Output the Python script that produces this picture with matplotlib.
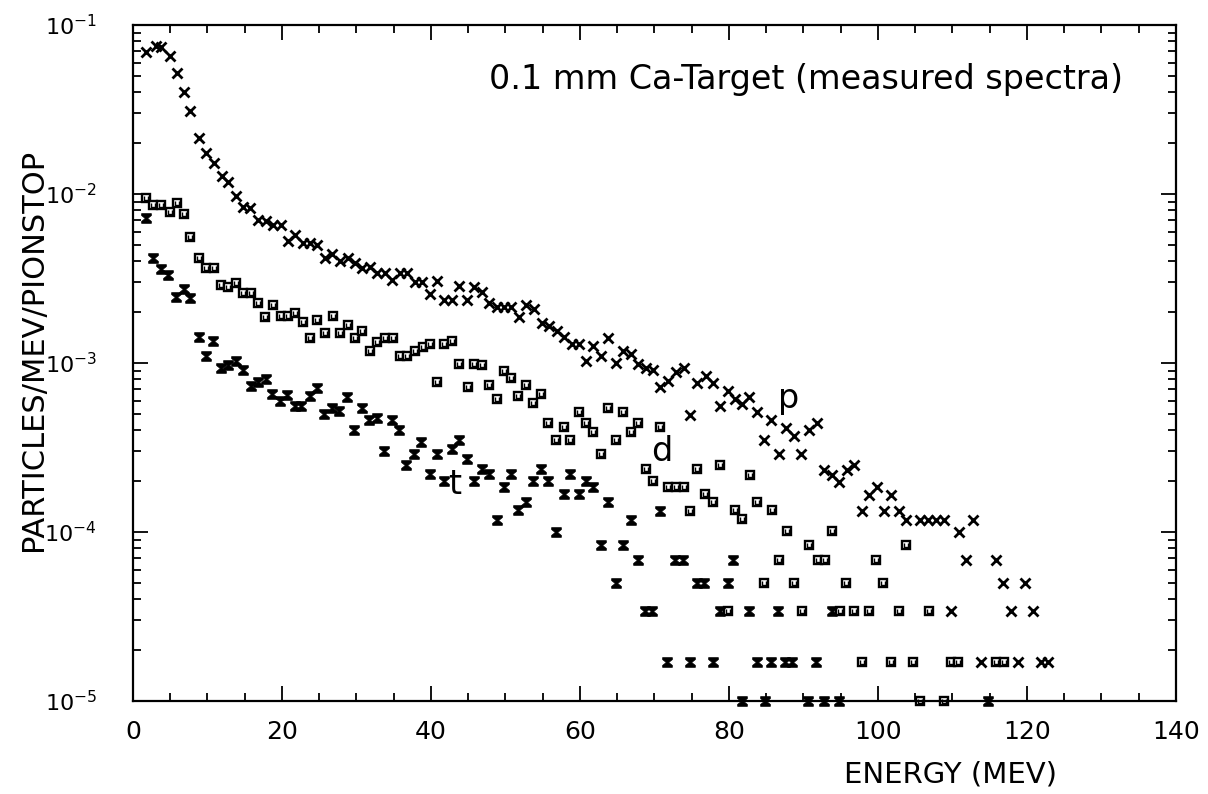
import numpy as np
import matplotlib
matplotlib.use("Agg")
import matplotlib.pyplot as plt
from matplotlib.path import Path
from matplotlib.ticker import MultipleLocator, LogLocator, NullFormatter

# --- data (energy in MeV, particles/MeV/pionstop)
p_energy = np.array([1.75, 3.1, 3.7, 4.9, 5.9, 6.8, 7.7, 8.8, 9.8, 10.9, 11.9, 12.8, 13.8,
                     14.8, 15.7, 16.8, 17.9, 18.8, 19.8, 20.8, 21.7, 22.8, 23.8, 24.7,
                     25.8, 26.7, 27.8, 28.8, 29.8, 30.8, 31.8, 32.8, 33.8, 34.8, 35.8,
                     36.8, 37.8, 38.8, 39.8, 40.8, 41.7, 42.8, 43.8, 44.8, 45.8, 46.8,
                     47.8, 48.8, 49.8, 50.8, 51.8, 52.8, 53.8, 54.9, 55.9, 56.9, 57.8,
                     58.9, 59.8, 60.8, 61.8, 62.8, 63.8, 64.8, 65.8, 66.8, 67.8, 68.9,
                     69.8, 70.8, 71.8, 72.9, 73.9, 74.8, 75.7, 76.9, 77.9, 78.8, 79.8,
                     80.8, 81.7, 82.7, 83.8, 84.7, 85.7, 86.7, 87.7, 88.7, 89.7, 90.8,
                     91.8, 92.8, 93.8, 94.8, 95.8, 96.8, 97.8, 98.8, 99.8, 100.8, 101.8,
                     102.8, 103.8, 105.6, 106.7, 107.8, 108.9, 109.8, 110.9, 111.8,
                     112.8, 113.8, 115.8, 116.8, 117.8, 118.8, 119.8, 120.8, 121.9,
                     122.8])
p_flux = np.array([0.069, 0.075, 0.074, 0.066, 0.052, 0.040, 0.031, 0.0214, 0.0174, 0.0152,
                   0.0127, 0.0117, 0.0097, 0.0084, 0.0083, 0.0070, 0.0069, 0.0066, 0.0066,
                   0.0053, 0.0057, 0.0051, 0.0051, 0.0050, 0.00417, 0.00442, 0.00403,
                   0.00417, 0.00389, 0.00363, 0.0037, 0.0034, 0.0034, 0.0031, 0.0034,
                   0.0034, 0.0030, 0.0030, 0.00256, 0.00307, 0.00237, 0.00237, 0.00286,
                   0.00237, 0.0028, 0.00264, 0.00227, 0.00214, 0.00214, 0.00214, 0.00186,
                   0.0022, 0.0021, 0.00172, 0.00166, 0.00155, 0.00143, 0.0013, 0.0013,
                   0.00103, 0.00126, 0.0011, 0.0014, 0.0010, 0.00118, 0.00113, 0.00099,
                   0.00093, 0.00091, 0.00072, 0.00078, 0.00088, 0.00093, 0.00049, 0.00076,
                   0.00084, 0.00076, 0.00056, 0.00068, 0.00061, 0.00057, 0.00063, 0.00051,
                   0.00035, 0.00046, 0.00029, 0.00041, 0.00037, 0.00029, 0.0004, 0.00044,
                   0.000233, 0.000217, 0.000199, 0.000233, 0.000249, 0.000134, 0.000166,
                   0.000184, 0.000134, 0.000166, 0.000134, 0.000117, 0.000117, 0.000117,
                   0.000117, 0.000117, 3.4e-5, 0.0001, 6.8e-5, 0.000117, 1.7e-5, 6.8e-5,
                   5.0e-5, 3.4e-5, 1.7e-5, 5.0e-5, 3.4e-5, 1.7e-5, 1.7e-5])

d_energy = np.array([1.8, 2.7, 3.7, 4.9, 5.9, 6.8, 7.7, 8.8, 9.8, 10.9, 11.8, 12.8, 13.8,
                     14.8, 15.8, 16.8, 17.7, 18.8, 19.8, 20.8, 21.7, 22.8, 23.8, 24.7,
                     25.8, 26.8, 27.8, 28.8, 29.8, 30.8, 31.8, 32.8, 33.8, 34.9, 35.8,
                     36.8, 37.8, 38.9, 39.9, 40.8, 41.7, 42.8, 43.8, 44.9, 45.8, 46.8,
                     47.8, 48.8, 49.8, 50.8, 51.7, 52.8, 53.7, 54.7, 55.7, 56.8, 57.8,
                     58.7, 59.8, 60.8, 61.8, 62.8, 63.8, 64.8, 65.8, 66.8, 67.8, 68.9,
                     69.8, 70.8, 71.8, 72.9, 73.9, 74.8, 75.7, 76.8, 77.8, 78.8, 79.9,
                     80.8, 81.8, 82.8, 83.8, 84.7, 85.8, 86.7, 87.8, 88.7, 89.8, 90.8,
                     91.9, 92.9, 93.8, 94.9, 95.7, 96.8, 97.8, 98.8, 99.7, 100.7, 101.7,
                     102.8, 103.8, 104.7, 105.7, 106.8, 108.8, 109.8, 110.8, 115.9,
                     116.9])
d_flux = np.array([0.0095, 0.0086, 0.0086, 0.00786, 0.0089, 0.0076, 0.00554, 0.0042, 0.00363,
                   0.00363, 0.0029, 0.0028, 0.00296, 0.0026, 0.0026, 0.00226, 0.00188,
                   0.0022, 0.0019, 0.0019, 0.00197, 0.00175, 0.0014, 0.0018, 0.0015,
                   0.0019, 0.0015, 0.00168, 0.0014, 0.00155, 0.00117, 0.00134, 0.0014,
                   0.0014, 0.0011, 0.0011, 0.00118, 0.00125, 0.0013, 0.00077, 0.0013,
                   0.00135, 0.00099, 0.00072, 0.00099, 0.00097, 0.00074, 0.00061, 0.0009,
                   0.00081, 0.00064, 0.00074, 0.00058, 0.00066, 0.00044, 0.00035, 0.00042,
                   0.00035, 0.00051, 0.00044, 0.00039, 0.00029, 0.00054, 0.00035, 0.00051,
                   0.00039, 0.00044, 0.000235, 0.0002, 0.00042, 0.000184, 0.000184,
                   0.000184, 0.000134, 0.000235, 0.000168, 0.000151, 0.00025, 3.4e-5,
                   0.000135, 0.000119, 0.000217, 0.000151, 5.0e-5, 0.000135, 6.8e-5,
                   0.000102, 5.0e-5, 3.4e-5, 8.4e-5, 6.8e-5, 6.8e-5, 0.000102, 3.4e-5,
                   5.0e-5, 3.4e-5, 1.7e-5, 3.4e-5, 6.8e-5, 5.0e-5, 1.7e-5, 3.4e-5, 8.4e-5,
                   1.7e-5, 1.0e-5, 3.4e-5, 1.0e-5, 1.7e-5, 1.7e-5, 1.7e-5, 1.7e-5])

t_energy = np.array([1.8, 2.7, 3.7, 4.7, 5.8, 6.8, 7.7, 8.8, 9.8, 10.8, 11.8, 12.8, 13.8,
                     14.8, 15.8, 16.8, 17.8, 18.7, 19.7, 20.7, 21.7, 22.6, 23.7, 24.7,
                     25.6, 26.7, 27.7, 28.7, 29.7, 30.7, 31.7, 32.7, 33.7, 34.7, 35.7,
                     36.7, 37.7, 38.7, 39.8, 40.8, 41.7, 42.8, 43.8, 44.8, 45.8, 46.8,
                     47.8, 48.8, 49.8, 50.8, 51.7, 52.8, 53.7, 54.7, 55.7, 56.8, 57.8,
                     58.7, 59.8, 60.8, 61.8, 62.8, 63.8, 64.8, 65.8, 66.8, 67.8, 68.7,
                     69.6, 70.8, 71.7, 72.7, 73.8, 74.7, 75.7, 76.7, 77.8, 78.8, 79.8,
                     80.6, 81.7, 82.7, 83.7, 84.8, 85.6, 86.6, 87.5, 88.5, 90.6, 91.7,
                     92.7, 93.8, 94.8, 114.8])
t_flux = np.array([0.00718, 0.00417, 0.0036, 0.0033, 0.00245, 0.00273, 0.00242, 0.00143,
                   0.0011, 0.00135, 0.00093, 0.00097, 0.00103, 0.00091, 0.00073, 0.00077,
                   0.0008, 0.00066, 0.0006, 0.00065, 0.00056, 0.00056, 0.00064, 0.00071,
                   0.0005, 0.00054, 0.00052, 0.00063, 0.0004, 0.00054, 0.00046, 0.00047,
                   0.0003, 0.00046, 0.0004, 0.00025, 0.00029, 0.00034, 0.00022, 0.00029,
                   0.0002, 0.00031, 0.00035, 0.00027, 0.0002, 0.000235, 0.00022, 0.000118,
                   0.000184, 0.00022, 0.000135, 0.00015, 0.0002, 0.000235, 0.0002, 0.0001,
                   0.000168, 0.00022, 0.000168, 0.0002, 0.000184, 8.4e-5, 0.00015, 5.0e-5,
                   8.4e-5, 0.000118, 6.8e-5, 3.4e-5, 3.4e-5, 0.000134, 1.7e-5, 6.8e-5,
                   6.8e-5, 1.7e-5, 5.0e-5, 5.0e-5, 1.7e-5, 3.4e-5, 5.0e-5, 6.8e-5, 1.0e-5,
                   3.4e-5, 1.7e-5, 1.0e-5, 1.7e-5, 3.4e-5, 1.7e-5, 1.7e-5, 1.0e-5, 1.7e-5,
                   1.0e-5, 3.4e-5, 1.0e-5, 1.0e-5])

x_ticks = [0, 20, 40, 60, 80, 100, 120, 140]
y_ticks = [1e-5, 1e-4, 1e-3, 1e-2, 1e-1]
y_tick_labels = [r"$10^{-5}$", r"$10^{-4}$", r"$10^{-3}$", r"$10^{-2}$", r"$10^{-1}$"]

# --- markers: hourglass for tritons, square with a "u" for deuterons
hourglass = [(-1, 1), (1, 1), (1, 0.6), (0.25, 0), (1, -0.6), (1, -1),
             (-1, -1), (-1, -0.6), (-0.25, 0), (-1, 0.6), (-1, 1)]
u_shape = Path([(-0.5, 0.6), (-0.5, -0.5), (0.5, -0.5), (0.5, 0.6)],
               [Path.MOVETO, Path.LINETO, Path.LINETO, Path.LINETO])

plt.rcParams["font.family"] = ["DejaVu Sans"]
fig = plt.figure(figsize=(12.08, 7.94), dpi=100)
ax = fig.add_axes([0.1101, 0.1171, 0.8634, 0.8514])

ax.plot(p_energy, p_flux, linestyle="none", marker="x", ms=7, mew=2.0,
        color="black", clip_on=False)
ax.plot(d_energy, d_flux, linestyle="none", marker="s", ms=5.5, mew=1.7,
        mfc="white", mec="black", clip_on=False)
ax.plot(d_energy, d_flux, linestyle="none", marker=u_shape, ms=2.8, mew=1.0,
        mfc="none", mec="black", clip_on=False)
ax.plot(t_energy, t_flux, linestyle="none", marker=hourglass, ms=7, mew=0.5,
        color="black", clip_on=False)

# axes
ax.set_yscale("log")
ax.set_xlim(0, 140)
ax.set_ylim(1e-5, 1e-1)
ax.set_xticks(x_ticks)
ax.xaxis.set_minor_locator(MultipleLocator(5))
ax.set_yticks(y_ticks)
ax.set_yticklabels(y_tick_labels)
ax.yaxis.set_minor_locator(LogLocator(base=10, subs=np.arange(2, 10)))
ax.yaxis.set_minor_formatter(NullFormatter())
ax.tick_params(which="both", direction="in", top=True, right=True, width=1.3)
ax.tick_params(which="major", length=11)
ax.tick_params(which="minor", length=5.5)
ax.tick_params(axis="x", which="major", labelsize=18, pad=14)
ax.tick_params(axis="y", which="major", labelsize=16, pad=26)
for spine in ax.spines.values():
    spine.set_linewidth(1.6)

ax.set_ylabel("PARTICLES/MEV/PIONSTOP", fontsize=22)
ax.yaxis.set_label_coords(-0.0815, 0.52)
ax.set_xlabel("ENERGY (MEV)", fontsize=21)
ax.xaxis.set_label_coords(0.784, -0.088)

# annotations
ax.text(0.645, 0.919, "0.1 mm Ca-Target (measured spectra)", transform=ax.transAxes,
        ha="center", va="center", fontsize=24)
ax.text(88, 6.2e-4, "p", ha="center", va="center", fontsize=24)
ax.text(71.0, 3.0e-4, "d", ha="center", va="center", fontsize=24)
ax.text(43.2, 1.9e-4, "t", ha="center", va="center", fontsize=24)

plt.savefig("out.png", dpi=100)
